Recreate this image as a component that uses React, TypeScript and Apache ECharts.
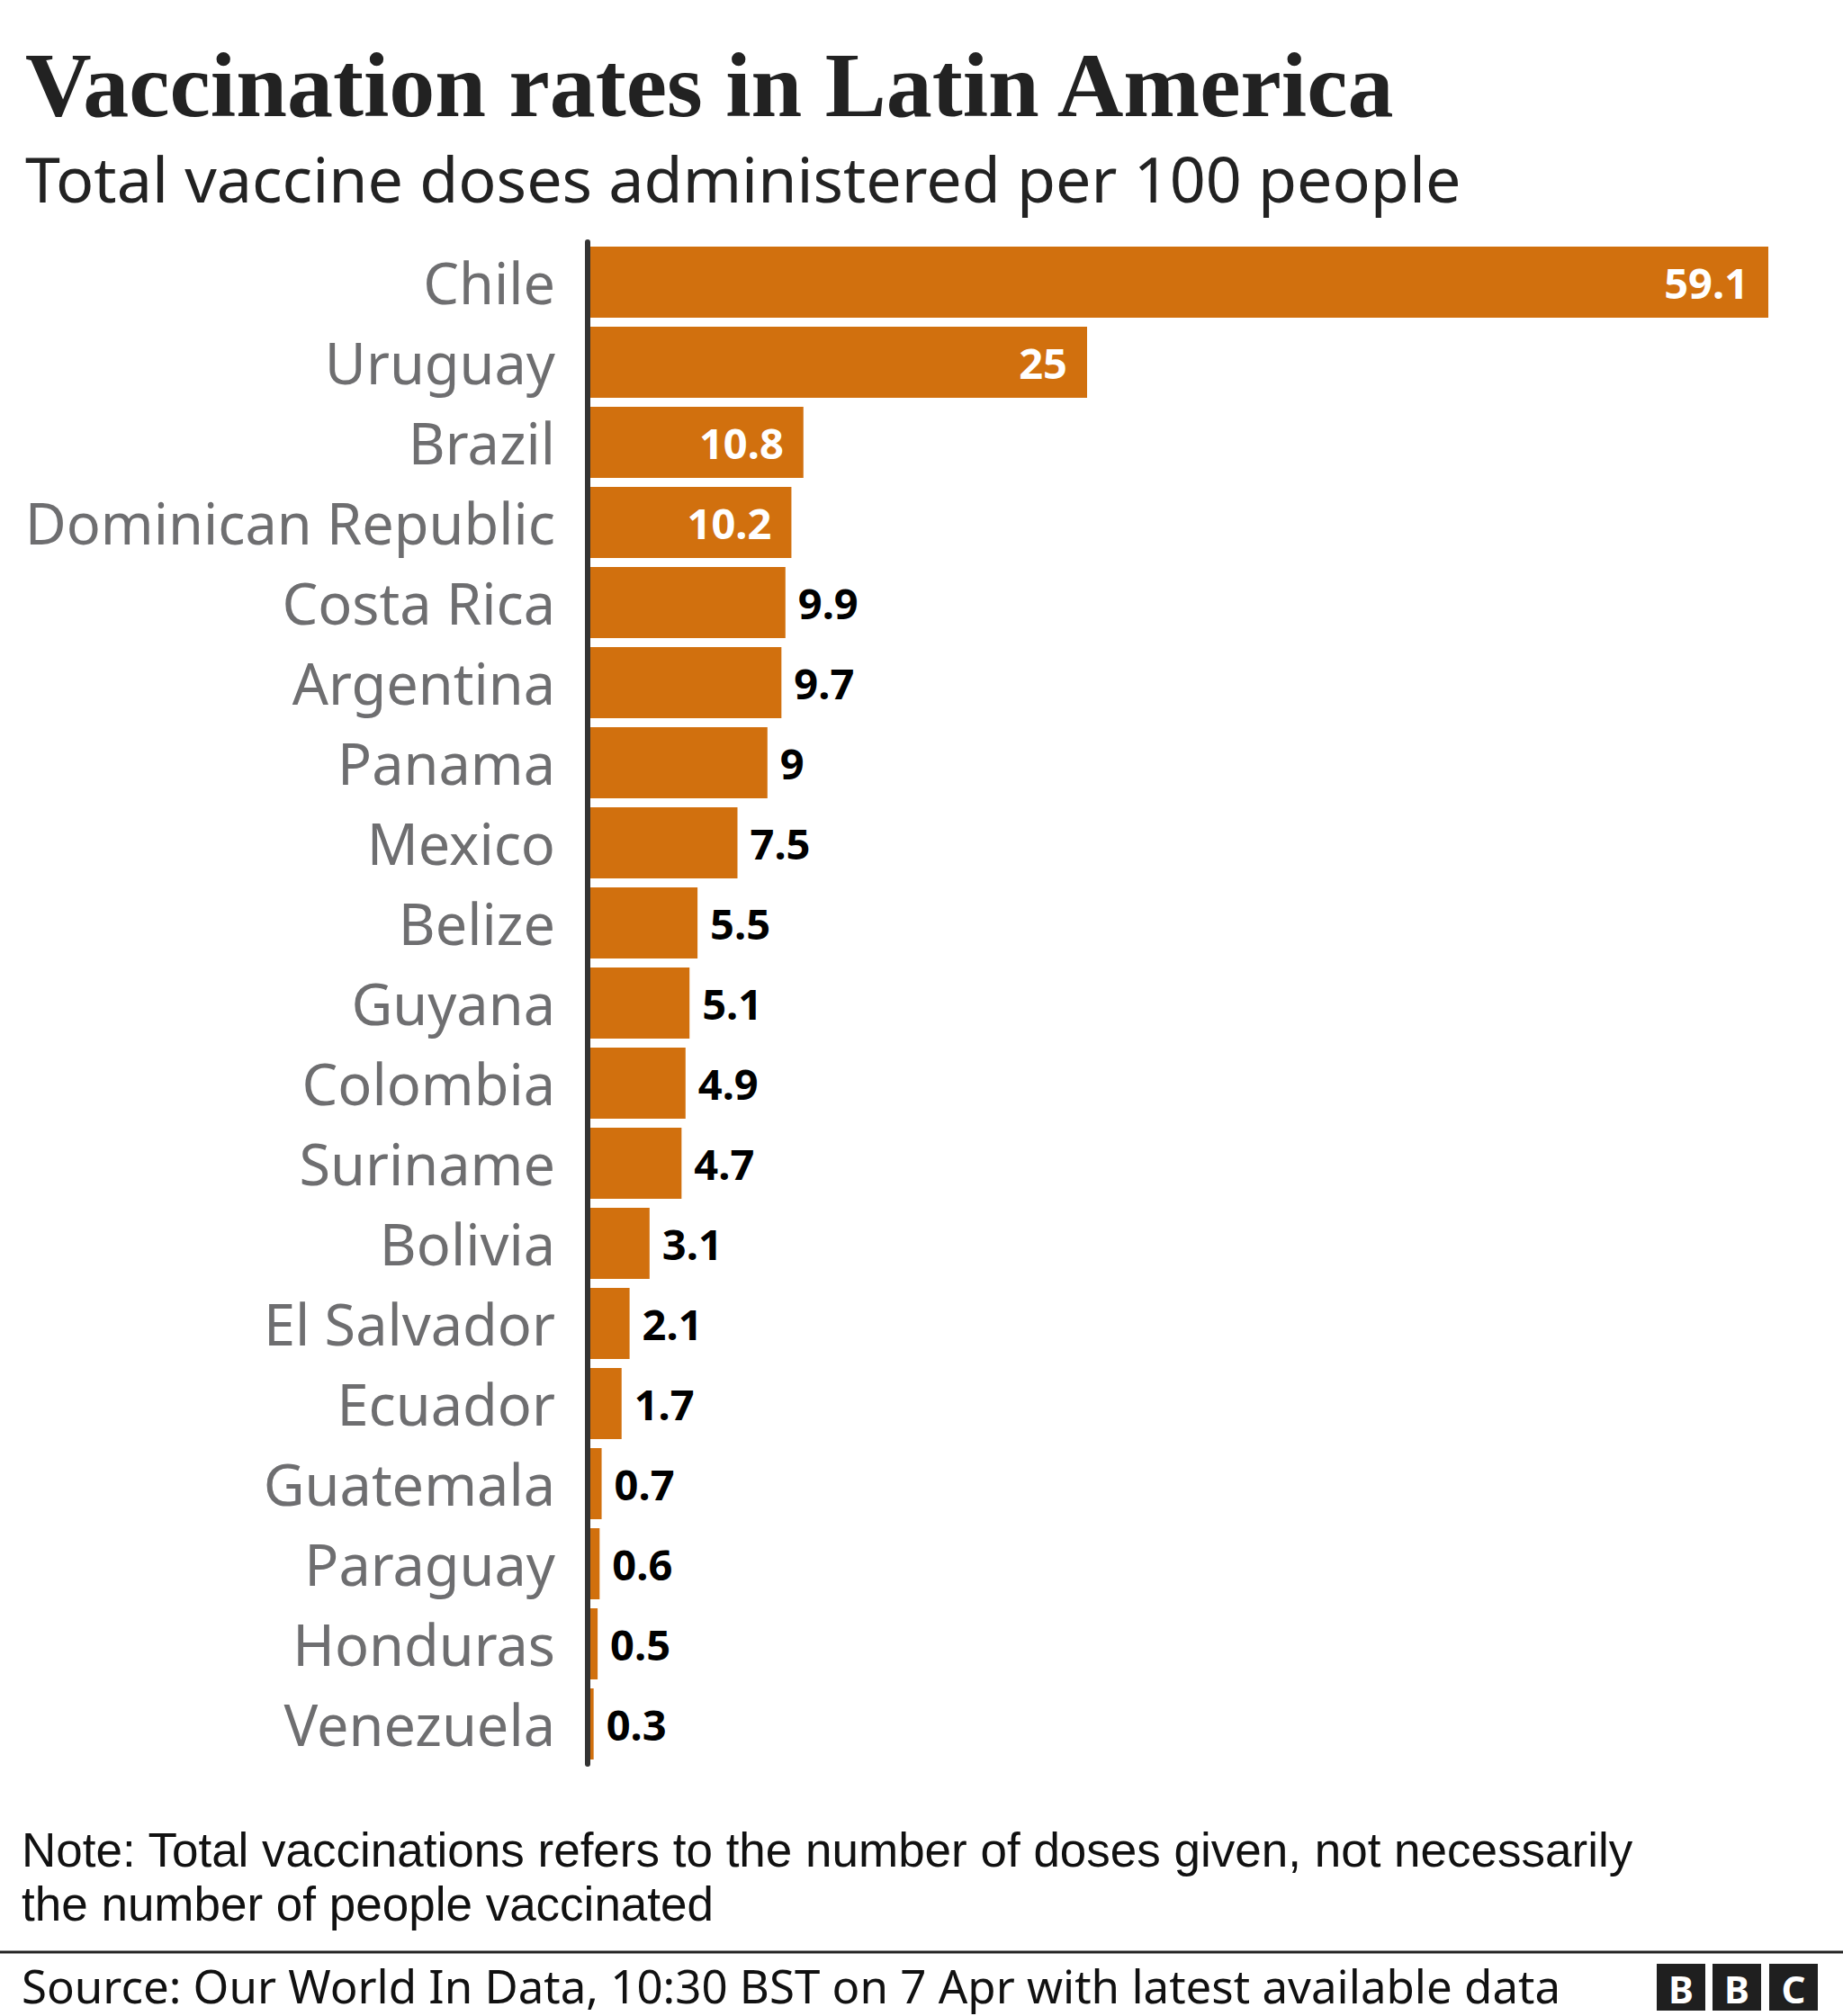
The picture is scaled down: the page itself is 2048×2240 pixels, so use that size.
import React, { useEffect, useRef } from "react";
import * as echarts from "echarts";

const countries = [
  "Chile", "Uruguay", "Brazil", "Dominican Republic", "Costa Rica", "Argentina",
  "Panama", "Mexico", "Belize", "Guyana", "Colombia", "Suriname", "Bolivia",
  "El Salvador", "Ecuador", "Guatemala", "Paraguay", "Honduras", "Venezuela",
];
const doses = [59.1, 25, 10.8, 10.2, 9.9, 9.7, 9, 7.5, 5.5, 5.1, 4.9, 4.7, 3.1, 2.1, 1.7, 0.7, 0.6, 0.5, 0.3];

const TITLE = "Vaccination rates in Latin America";
const SUBTITLE = "Total vaccine doses administered per 100 people";
const NOTE = "Note: Total vaccinations refers to the number of doses given, not necessarily\nthe number of people vaccinated";
const SOURCE = "Source: Our World In Data, 10:30 BST on 7 Apr with latest available data";

const ORANGE = "#D1700E";
const SANS = "'Noto Sans', 'Open Sans', sans-serif";

export default function App() {
  const ref = useRef<HTMLDivElement>(null);
  useEffect(() => {
    document.body.style.margin = "0";
    const chart = echarts.init(ref.current!, null, { renderer: "svg" });
    const insideLabel = {
      position: "insideRight",
      distance: 22,
      color: "#ffffff",
    };
    const logoLetters = ["B", "B", "C"];
    const logoX = [1841, 1903, 1966];
    chart.setOption({
      animation: false,
      backgroundColor: "#ffffff",
      grid: { left: 653, right: 63, top: 269, bottom: 280, containLabel: false },
      xAxis: {
        type: "value",
        min: 0,
        max: 60,
        show: false,
      },
      yAxis: {
        type: "category",
        inverse: true,
        data: countries,
        offset: 3,
        z: 3,
        axisLine: { show: true, lineStyle: { color: "#333333", width: 6 } },
        axisTick: { show: false },
        axisLabel: {
          margin: 33,
          fontFamily: SANS,
          fontSize: 63,
          color: "#6e6e70",
        },
      },
      series: [
        {
          type: "bar",
          barWidth: 79,
          itemStyle: { color: ORANGE },
          label: {
            show: true,
            position: "right",
            distance: 14,
            fontFamily: SANS,
            fontWeight: "bold",
            fontSize: 47,
            color: "#000000",
          },
          data: doses.map((v) => (v >= 10 ? { value: v, label: insideLabel } : { value: v })),
        },
      ],
      graphic: [
        {
          type: "text",
          x: 28,
          y: 94,
          style: {
            text: TITLE,
            font: "bold 102px 'Liberation Serif', serif",
            fill: "#222222",
            textVerticalAlign: "middle",
          },
        },
        {
          type: "text",
          x: 28,
          y: 198,
          style: {
            text: SUBTITLE,
            font: `70px ${SANS}`,
            fill: "#222222",
            textVerticalAlign: "middle",
          },
        },
        {
          type: "text",
          x: 24,
          y: 2085,
          style: {
            text: NOTE,
            font: "53px 'Liberation Sans', Arial, sans-serif",
            lineHeight: 60,
            fill: "#111111",
            textVerticalAlign: "middle",
          },
        },
        {
          type: "line",
          shape: { x1: 0, y1: 2169, x2: 2048, y2: 2169 },
          style: { stroke: "#222222", lineWidth: 3 },
        },
        {
          type: "text",
          x: 24,
          y: 2206,
          style: { text: SOURCE, font: `51px ${SANS}`, fill: "#111111", textVerticalAlign: "middle" },
        },
        ...logoX.map((x) => ({
          type: "rect",
          shape: { x, y: 2182, width: 54, height: 52 },
          style: { fill: "#1f1f1f" },
        })),
        ...logoX.map((x, i) => ({
          type: "text",
          x: x + 27,
          y: 2209,
          style: {
            text: logoLetters[i],
            font: `bold 42px ${SANS}`,
            fill: "#ffffff",
            textAlign: "center",
            textVerticalAlign: "middle",
          },
        })),
      ],
    });
    return () => chart.dispose();
  }, []);
  return <div ref={ref} style={{ width: 2048, height: 2240 }} />;
}
